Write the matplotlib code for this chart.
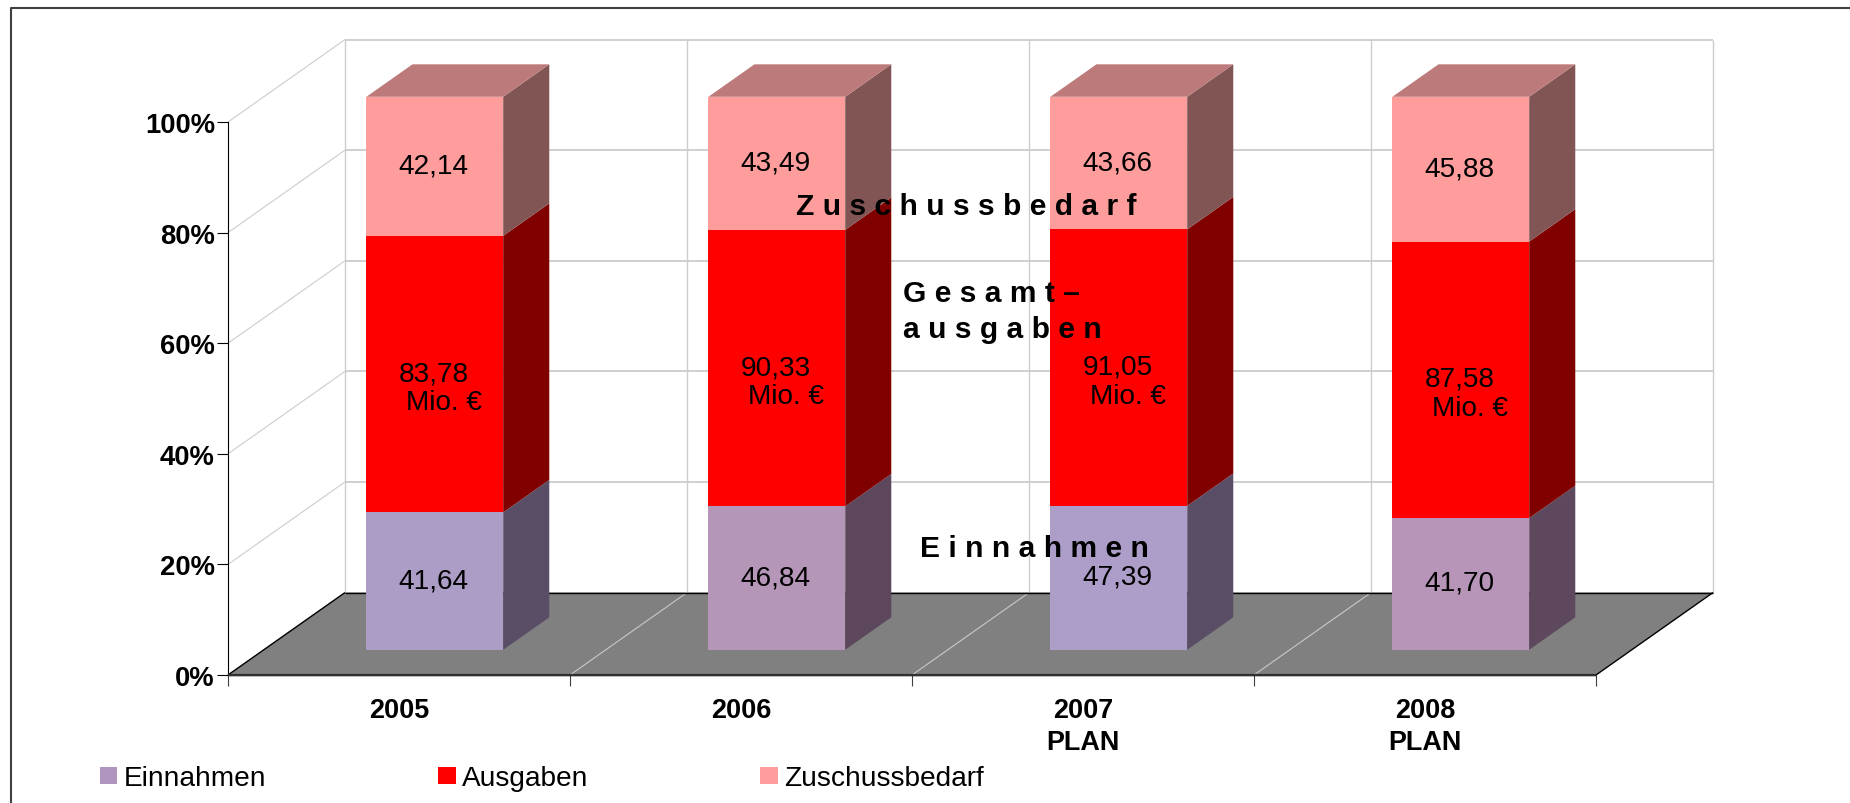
# -*- coding: utf-8 -*-
# Stacked 100% bars in the old Excel style 3D look, drawn by hand on a 2D axes
import numpy as np
from matplotlib import pyplot as plt
from matplotlib.lines import Line2D
from matplotlib.patches import Patch, Polygon

#The values
years = ["2005", "2006", "2007\nPLAN", "2008\nPLAN"]
einnahmen = [41.64, 46.84, 47.39, 41.70]
ausgaben = [83.78, 90.33, 91.05, 87.58]
zuschuss = [42.14, 43.49, 43.66, 45.88]
einnahmenText = ["41,64", "46,84", "47,39", "41,70"]
ausgabenText = ["83,78", "90,33", "91,05", "87,58"]
zuschussText = ["42,14", "43,49", "43,66", "45,88"]
pctTicks = [0, 20, 40, 60, 80, 100]

#Figure size and styling constants
W, H = 1850, 804
DEPTHX = 0.342 #Shift of the back wall in category units
DEPTHY = 14.9 #Shift of the back wall in percent units
BARWIDTH = 0.4
BARFRONT, BARBACK = 0.306, 0.70 #Depth of the bar faces, 0 = front, 1 = back wall
GRID = "#cccccc"
BLUES = ["#ac9dc6", "#b595b8", "#ac9ec8", "#b795b8"]
BLUESIDE = ["#5a4e66", "#5c475c", "#5a4e66", "#5e485e"]
RED, REDSIDE = "#ff0000", "#800000"
PINK, PINKSIDE, PINKTOP = "#ff9c9c", "#825555", "#bd7a7a"

plt.rcParams['font.family'] = ['Liberation Sans', 'DejaVu Sans']


def px(size):
    """Turns a size in pixels into points at 100 dpi."""
    return size * 0.72


def proj(x, y, depth):
    """Moves a point from the front plane back by depth (0 to 1)."""
    return (x + depth * DEPTHX, y + depth * DEPTHY)


def face(ax, points, color, zorder):
    ax.add_patch(Polygon(points, closed=True, facecolor=color, edgecolor="none", zorder=zorder, clip_on=False))


def line(ax, a, b, color, width=1.0, zorder=1):
    ax.plot([a[0], b[0]], [a[1], b[1]], color=color, lw=width, zorder=zorder, clip_on=False, solid_capstyle="butt")


fig = plt.figure(figsize=(W / 100, H / 100), dpi=100, facecolor="white")
ax = fig.add_axes([228 / W, 1 - 676 / H, 1368 / W, 553 / H])
ax.set_xlim(0, len(years))
ax.set_ylim(0, 100)
ax.patch.set_visible(False)
for s in ["top", "right"]:
    ax.spines[s].set_visible(False)
ax.spines["left"].set_linewidth(0.8)
ax.spines["bottom"].set_visible(False)

#Axis ticks and labels
ax.set_yticks(pctTicks)
ax.set_yticklabels([str(p) + "%" for p in pctTicks], fontsize=px(27.5), fontweight="bold")
ax.tick_params(axis="y", length=px(11), width=0.8, pad=px(2))
ax.set_xticks(np.arange(len(years) + 1))
ax.set_xticklabels([])
ax.tick_params(axis="x", which="major", length=px(11), width=0.8, color="#404040")
ax.set_xticks(np.arange(len(years)) + 0.5, minor=True)
ax.set_xticklabels(years, minor=True, fontsize=px(27), fontweight="bold", linespacing=1.3)
ax.tick_params(axis="x", which="minor", length=0, pad=px(22))

#Back wall and left wall gridlines
for p in pctTicks:
    line(ax, proj(0, p, 0), proj(0, p, 1), GRID, 0.8)
    line(ax, proj(0, p, 1), proj(len(years), p, 1), GRID, 1.3)
for i in range(len(years) + 1):
    line(ax, proj(i, 0, 1), proj(i, 100, 1), GRID, 1.0)

#Grey floor with its category lines
floor = [proj(0, 0, 0), proj(len(years), 0, 0), proj(len(years), 0, 1), proj(0, 0, 1)]
face(ax, floor, "#808080", 2)
for i in range(1, len(years)):
    line(ax, proj(i, 0, 0), proj(i, 0, 1), "#c8c8c8", 0.8, 3)
for a, b in zip(floor, floor[1:] + floor[:1]):
    line(ax, a, b, "black", 1.0, 3)
line(ax, floor[0], floor[1], "#303030", 1.6, 3)

#The bars, stacked in percent of the total of each year
total = np.array(einnahmen) + np.array(ausgaben) + np.array(zuschuss)
pctE = np.array(einnahmen) / total * 100
pctA = np.array(ausgaben) / total * 100
pctZ = np.array(zuschuss) / total * 100

for i in range(len(years)):
    left = i + 0.5 - BARWIDTH / 2
    right = i + 0.5 + BARWIDTH / 2
    bottoms = [0, pctE[i], pctE[i] + pctA[i]]
    heights = [pctE[i], pctA[i], pctZ[i]]
    fronts = [BLUES[i], RED, PINK]
    sides = [BLUESIDE[i], REDSIDE, PINKSIDE]
    texts = [einnahmenText[i], ausgabenText[i], zuschussText[i]]
    for b, h, front, side, t in zip(bottoms, heights, fronts, sides, texts):
        face(ax, [proj(right, b, BARFRONT), proj(right, b, BARBACK),
                  proj(right, b + h, BARBACK), proj(right, b + h, BARFRONT)], side, 4)
        face(ax, [proj(left, b, BARFRONT), proj(right, b, BARFRONT),
                  proj(right, b + h, BARFRONT), proj(left, b + h, BARFRONT)], front, 5)
        mid = proj(i + 0.5, b + h / 2, BARFRONT)
        ax.annotate(t, mid, xytext=(-1, 1), textcoords="offset pixels", ha="center", va="center",
                    fontsize=px(28), zorder=7)
        if front == RED:
            ax.annotate("Mio. €", mid, xytext=(9, -28), textcoords="offset pixels", ha="center", va="center",
                        fontsize=px(28), zorder=7)
    face(ax, [proj(left, 100, BARFRONT), proj(right, 100, BARFRONT),
              proj(right, 100, BARBACK), proj(left, 100, BARBACK)], PINKTOP, 5)

#The spaced out captions written over the chart
fig.text(796 / W, 1 - 207 / H, "Z u s c h u s s b e d a r f", fontsize=px(30), fontweight="bold", va="center", zorder=8)
fig.text(903 / W, 1 - 294 / H, "G e s a m t –", fontsize=px(30), fontweight="bold", va="center", zorder=8)
fig.text(903 / W, 1 - 330 / H, "a u s g a b e n", fontsize=px(30), fontweight="bold", va="center", zorder=8)
fig.text(920 / W, 1 - 549 / H, "E i n n a h m e n", fontsize=px(30), fontweight="bold", va="center", zorder=8)

#Legend along the bottom
handles = [Patch(facecolor="#b095be", label="Einnahmen"),
           Patch(facecolor=RED, label="Ausgaben"),
           Patch(facecolor=PINK, label="Zuschussbedarf")]
fig.legend(handles=handles, ncol=3, loc="lower left", bbox_to_anchor=(100 / W, 1 - 792 / H),
           frameon=False, fontsize=px(28), borderpad=0, borderaxespad=0,
           handlelength=0.62, handleheight=0.55, handletextpad=0.22, columnspacing=6.15)

#Frame round the picture, only left and top are inside the image
fig.add_artist(Line2D([10.6 / W, 10.6 / W, 1], [0, 1 - 9 / H, 1 - 9 / H], color="#404040", lw=1.5))

fig.savefig("out.png", dpi=100)
